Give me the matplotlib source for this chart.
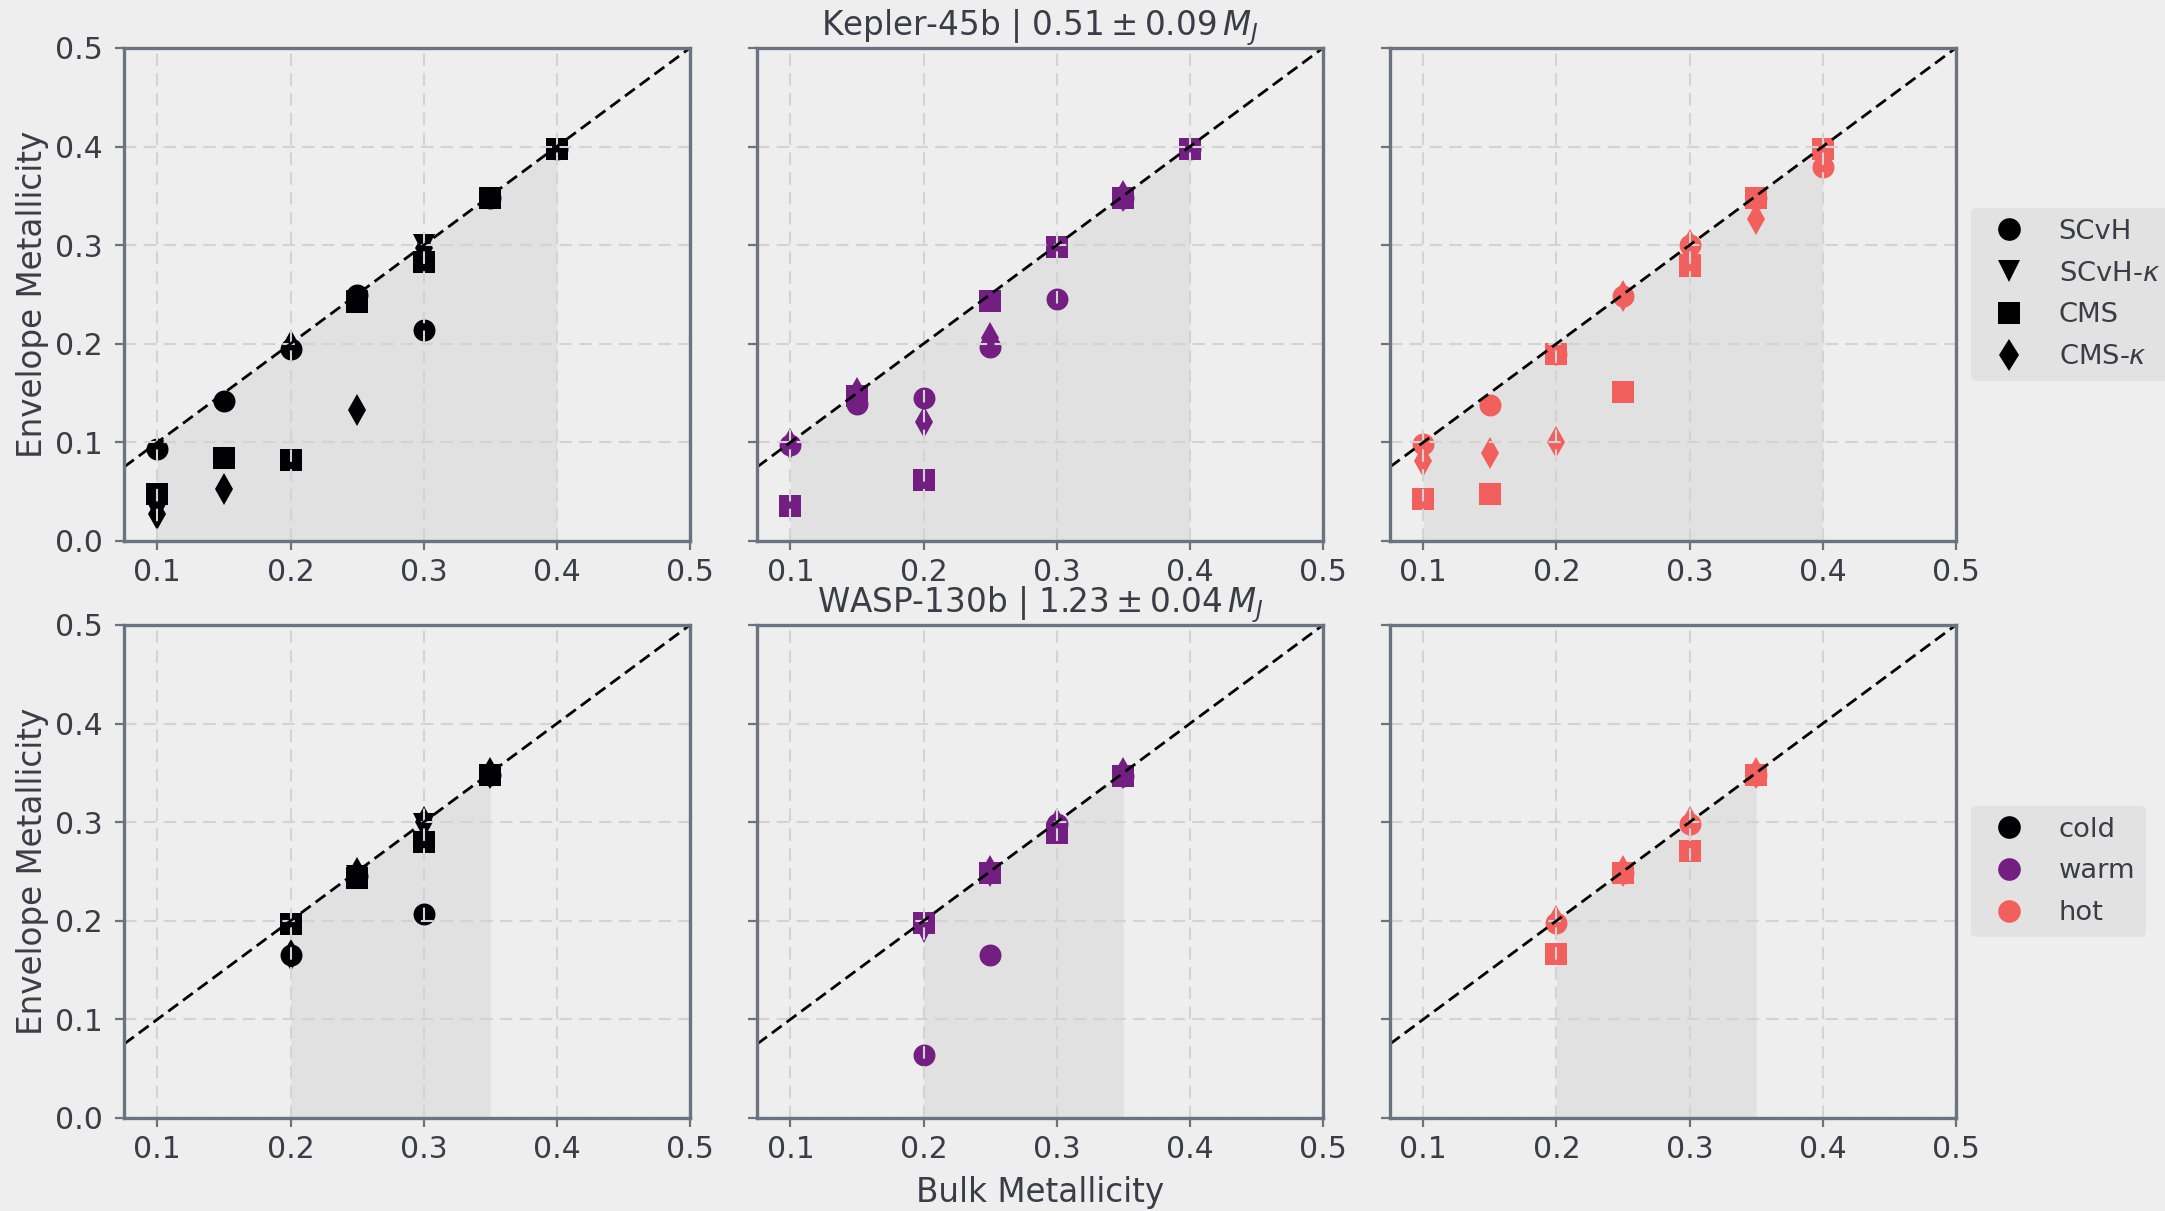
import numpy as np
import matplotlib
matplotlib.use("Agg")
import matplotlib.pyplot as plt
from matplotlib.lines import Line2D
from matplotlib.ticker import FormatStrFormatter

nan = np.nan

# ---------------- data ----------------
temps = ["cold", "warm", "hot"]
temp_colors = ["#000004", "#721f81", "#f1605d"]
models = ["SCvH", "SCvH-$\\kappa$", "CMS", "CMS-$\\kappa$"]
model_markers = ["o", "v", "s", "d"]

planet_titles = ["Kepler-45b | $0.51 \\pm 0.09\\,M_J$",
                 "WASP-130b | $1.23 \\pm 0.04\\,M_J$"]

bulk_k45 = [0.10, 0.15, 0.20, 0.25, 0.30, 0.35, 0.40]
bulk_w130 = [0.20, 0.25, 0.30, 0.35]

# Kepler-45b envelope metallicity
k45_cold_scvh = [0.093, 0.142, 0.195, 0.249, 0.214, 0.348, 0.398]
k45_cold_scvhk = [0.030, nan, nan, 0.243, 0.300, 0.348, 0.398]
k45_cold_cms = [0.048, 0.084, 0.082, 0.242, 0.283, 0.348, 0.398]
k45_cold_cmsk = [0.027, 0.053, 0.198, 0.133, 0.297, nan, nan]

k45_warm_scvh = [0.097, 0.139, 0.145, 0.197, 0.245, 0.348, 0.398]
k45_warm_scvhk = [nan, 0.147, nan, 0.243, 0.298, 0.348, 0.398]
k45_warm_cms = [0.035, 0.147, 0.062, 0.243, 0.298, 0.348, 0.398]
k45_warm_cmsk = [0.098, 0.150, 0.121, 0.206, nan, 0.350, nan]

k45_hot_scvh = [0.098, 0.138, 0.190, 0.248, 0.300, 0.348, 0.379]
k45_hot_scvhk = [nan, nan, 0.190, nan, 0.280, 0.348, 0.398]
k45_hot_cms = [0.043, 0.048, 0.190, 0.151, 0.279, 0.348, 0.398]
k45_hot_cmsk = [0.081, 0.089, 0.100, 0.248, 0.300, 0.327, nan]

# WASP-130b envelope metallicity
w130_cold_scvh = [0.165, 0.245, 0.207, 0.348]
w130_cold_scvhk = [0.197, 0.245, 0.298, 0.348]
w130_cold_cms = [0.197, 0.243, 0.280, 0.348]
w130_cold_cmsk = [0.165, 0.248, 0.300, 0.350]

w130_warm_scvh = [0.064, 0.165, 0.298, 0.347]
w130_warm_scvhk = [0.189, 0.248, 0.290, 0.347]
w130_warm_cms = [0.198, 0.248, 0.289, 0.347]
w130_warm_cmsk = [nan, 0.250, 0.298, 0.350]

w130_hot_scvh = [0.198, 0.248, 0.298, 0.348]
w130_hot_scvhk = [nan, 0.248, nan, 0.348]
w130_hot_cms = [0.166, 0.248, 0.271, 0.348]
w130_hot_cmsk = [0.200, 0.250, 0.300, 0.350]

x_ticks = [0.1, 0.2, 0.3, 0.4, 0.5]
y_ticks = [0.0, 0.1, 0.2, 0.3, 0.4, 0.5]

panels = [
    (bulk_k45, [[k45_cold_scvh, k45_cold_scvhk, k45_cold_cms, k45_cold_cmsk],
                [k45_warm_scvh, k45_warm_scvhk, k45_warm_cms, k45_warm_cmsk],
                [k45_hot_scvh, k45_hot_scvhk, k45_hot_cms, k45_hot_cmsk]]),
    (bulk_w130, [[w130_cold_scvh, w130_cold_scvhk, w130_cold_cms, w130_cold_cmsk],
                 [w130_warm_scvh, w130_warm_scvhk, w130_warm_cms, w130_warm_cmsk],
                 [w130_hot_scvh, w130_hot_scvhk, w130_hot_cms, w130_hot_cmsk]]),
]

# ---------------- style ----------------
BG = "#eeeeee"
TXT = "#3c3c46"
SPINE = "#6b7280"
plt.rcParams["font.family"] = ["DejaVu Sans"]
plt.rcParams["mathtext.fontset"] = "dejavusans"
plt.rcParams["text.color"] = TXT

fig = plt.figure(figsize=(21.65, 12.11), dpi=100, facecolor=BG)

lefts = [0.0573, 0.3497, 0.6420]
bottoms = [0.5533, 0.0768]
W, H = 0.2614, 0.4071
MS = 15.8

for r, (bulk, series) in enumerate(panels):
    for c in range(3):
        ax = fig.add_axes([lefts[c], bottoms[r], W, H])
        ax.set_facecolor(BG)
        ax.set_xlim(0.075, 0.5)
        ax.set_ylim(0.0, 0.5)
        bx = np.array(bulk)
        ax.fill_between(bx, 0, bx, color="k", alpha=0.05, linewidth=0, zorder=0.5)
        for m, mk in enumerate(model_markers):
            ax.plot(bulk, series[c][m], linestyle="none", marker=mk, ms=MS,
                    color=temp_colors[c], markeredgewidth=0, zorder=2)
        lims = np.array(ax.get_xlim())
        ax.plot(lims, lims, color="k", lw=2.0, linestyle=(0, (4.4, 2.2)), zorder=3)
        ax.set_xlim(0.075, 0.5)
        ax.set_axisbelow(False)
        ax.grid(True, color="#d3d3d3", linestyle=(0, (6, 3.5)), linewidth=1.5, zorder=2.5)
        ax.set_xticks(x_ticks)
        ax.set_yticks(y_ticks)
        ax.xaxis.set_major_formatter(FormatStrFormatter("%.1f"))
        ax.yaxis.set_major_formatter(FormatStrFormatter("%.1f"))
        for s in ax.spines.values():
            s.set_color(SPINE)
            s.set_linewidth(2.4)
            s.set_zorder(5)
        ax.tick_params(axis="both", direction="out", length=6.5, width=1.6,
                       color=SPINE, labelcolor=TXT, labelsize=21.5)
        ax.tick_params(axis="x", pad=6)
        ax.tick_params(axis="y", pad=9)
        if c == 0:
            ax.set_ylabel("Envelope Metallicity", fontsize=23.5, color=TXT, labelpad=4)
        else:
            ax.tick_params(axis="y", labelleft=False)
        if c == 1:
            ax.set_title(planet_titles[r], fontsize=23.5, color=TXT, pad=1)
            if r == 1:
                ax.set_xlabel("Bulk Metallicity", fontsize=23.5, color=TXT, labelpad=8.5)
        if c == 2:
            if r == 0:
                handles = [Line2D([], [], linestyle="none", marker=mk, ms=16.3,
                                  color="k", markeredgewidth=0) for mk in model_markers]
                labels = models
            else:
                handles = [Line2D([], [], linestyle="none", marker="o", ms=16.3,
                                  color=col, markeredgewidth=0) for col in temp_colors]
                labels = temps
            leg = ax.legend(handles, labels, loc="center left", bbox_to_anchor=(1.027, 0.5),
                            borderaxespad=0, fontsize=19.7, frameon=True, fancybox=True,
                            facecolor="#e2e2e2", edgecolor="none", framealpha=1,
                            labelspacing=0.58)
            for t in leg.get_texts():
                t.set_color(TXT)

fig.savefig("out.png", dpi=100, facecolor=BG)
